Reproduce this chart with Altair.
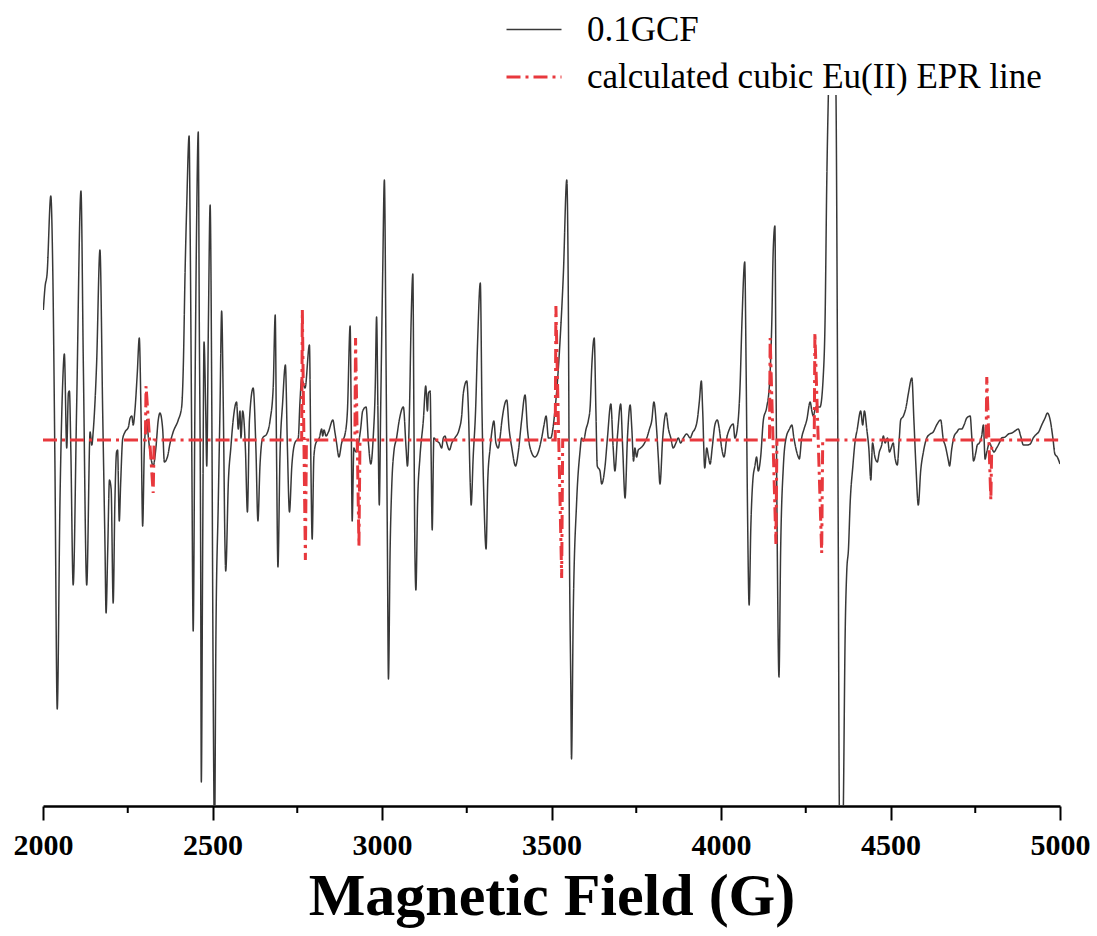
import altair as alt
import pandas as pd

# ---- measured spectrum (0.1GCF), field in gauss, signal in arbitrary units ----
field_g = [
    2001, 2006, 2012, 2023, 2029, 2035, 2042, 2050, 2058, 2063,
    2070, 2075, 2078, 2082, 2089, 2099, 2112, 2119, 2129, 2139,
    2144, 2148, 2158, 2168, 2176, 2183, 2186, 2191, 2196, 2201,
    2207, 2212, 2217, 2220, 2225, 2229, 2235, 2242, 2252, 2257,
    2262, 2266, 2271, 2278, 2284, 2289, 2294, 2299, 2306, 2311,
    2318, 2325, 2333, 2340, 2345, 2353, 2358, 2367, 2375, 2384,
    2399, 2409, 2414, 2419, 2424, 2431, 2434, 2439, 2443, 2448,
    2453, 2458, 2461, 2465, 2467, 2471, 2475, 2480, 2483, 2488,
    2493, 2498, 2502, 2506, 2510, 2517, 2522, 2527, 2532, 2537,
    2539, 2547, 2554, 2561, 2571, 2576, 2581, 2584, 2589, 2597,
    2603, 2609, 2620, 2628, 2634, 2640, 2648, 2660, 2670, 2679,
    2685, 2689, 2693, 2699, 2707, 2715, 2721, 2727, 2734, 2743,
    2753, 2758, 2763, 2773, 2786, 2790, 2794, 2799, 2805, 2815,
    2822, 2825, 2829, 2835, 2842, 2855, 2861, 2866, 2873, 2881,
    2891, 2898, 2906, 2909, 2912, 2917, 2923, 2937, 2943, 2953,
    2960, 2967, 2974, 2980, 2984, 2988, 2992, 2996, 3002, 3007,
    3012, 3016, 3019, 3024, 3029, 3035, 3043, 3051, 3063, 3071,
    3075, 3081, 3086, 3091, 3094, 3097, 3100, 3105, 3112, 3122,
    3129, 3134, 3137, 3142, 3145, 3148, 3153, 3161, 3169, 3176,
    3181, 3186, 3191, 3199, 3206, 3215, 3228, 3235, 3240, 3250,
    3255, 3260, 3263, 3269, 3276, 3282, 3290, 3295, 3301, 3307,
    3312, 3319, 3325, 3330, 3336, 3343, 3348, 3354, 3368, 3375,
    3383, 3394, 3402, 3412, 3422, 3429, 3437, 3451, 3461, 3471,
    3478, 3484, 3491, 3498, 3504, 3510, 3517, 3525, 3535, 3545,
    3550, 3553, 3557, 3559, 3564, 3574, 3584, 3589, 3594, 3602,
    3609, 3614, 3619, 3626, 3631, 3635, 3643, 3648, 3658, 3665,
    3675, 3682, 3687, 3695, 3704, 3710, 3717, 3724, 3732, 3737,
    3742, 3746, 3751, 3756, 3763, 3771, 3781, 3789, 3796, 3802,
    3810, 3815, 3820, 3828, 3838, 3845, 3852, 3859, 3867, 3874,
    3881, 3889, 3899, 3909, 3917, 3923, 3930, 3936, 3942, 3946,
    3952, 3958, 3963, 3968, 3974, 3982, 3989, 3995, 4002, 4009,
    4017, 4025, 4036, 4041, 4048, 4056, 4062, 4070, 4074, 4078,
    4083, 4088, 4094, 4100, 4105, 4110, 4117, 4125, 4135, 4143,
    4150, 4154, 4159, 4162, 4166, 4171, 4176, 4184, 4192, 4202,
    4209, 4215, 4228, 4231, 4238, 4245, 4253, 4263, 4268, 4272,
    4280, 4287, 4292, 4302, 4307, 4312, 4317, 4327, 4339, 4343,
    4346, 4349, 4356, 4361, 4366, 4371, 4376, 4381, 4389, 4395,
    4402, 4412, 4418, 4423, 4430, 4436, 4442, 4447, 4454, 4461,
    4467, 4474, 4479, 4484, 4491, 4497, 4502, 4508, 4513, 4520,
    4526, 4530, 4538, 4546, 4553, 4563, 4569, 4575, 4582, 4589,
    4597, 4607, 4617, 4626, 4636, 4648, 4656, 4661, 4671, 4674,
    4681, 4688, 4696, 4703, 4710, 4717, 4725, 4735, 4740, 4745,
    4752, 4756, 4762, 4769, 4774, 4779, 4784, 4792, 4799, 4805,
    4813, 4821, 4828, 4838, 4848, 4858, 4867, 4877, 4884, 4892,
    4902, 4912, 4921, 4931, 4937, 4946, 4956, 4963, 4971, 4979,
    4985, 4992, 5000,
]
signal = [
    130, 153, 166, 244, 166, -17, -269, -63, 56, 86,
    -8, 47, 49, -8, -145, 29, 249, 75, -145, 8,
    -5, 8, 75, 190, 29, -109, -173, -109, -40, -49,
    -163, -63, -12, -10, -81, -44, 1, 8, 13, 22,
    24, 15, 29, 66, 102, 29, -86, -8, 20, 2,
    -17, -26, -8, 20, 27, 11, -22, -17, -3, 8,
    20, 33, 75, 166, 235, 304, 212, -17, -191, 29,
    212, 308, 120, -109, -342, -109, 98, 29, -26, 120,
    235, 29, -247, -400, -200, -63, 29, 129, 29, -109,
    -131, -40, -8, 20, 38, 11, 29, 2, 29, -8,
    -72, 20, 52, -8, -81, -26, 2, 6, 20, 52,
    125, -17, -127, -17, 38, 75, -8, -72, -26, -3,
    2, 38, 61, 52, 95, -17, -99, -17, -3, 2,
    11, 4, 10, 4, 8, 20, 8, -3, -17, -3,
    6, 29, 114, 29, -81, -8, -12, 11, 29, 33,
    -3, -24, 2, 52, 123, 29, -65, 29, 166, 260,
    75, -109, -239, -109, -44, -12, 2, 20, 33, -8,
    -26, 29, 120, 166, 29, -109, -150, -63, -17, 20,
    54, 29, 47, 49, -17, -90, 2, -1, -3, -8,
    2, 4, -3, -10, -3, 2, 11, 24, 47, 59,
    29, -40, -65, -17, 29, 98, 157, 29, -63, -109,
    -40, -8, 11, 19, -3, -8, 2, 20, 40, 11,
    -8, -26, -12, 20, 45, 11, -8, -17, -12, 2,
    15, 24, 2, 2, 11, 29, 56, 98, 166, 260,
    120, -109, -247, -319, -177, -63, -12, 2, -1, 11,
    20, 33, 75, 102, 29, -26, -31, -44, -26, 2,
    36, -8, -31, 6, 36, -8, -58, 2, 35, 11,
    -21, -8, -17, -10, -8, -5, 2, 11, 20, 38,
    11, -17, -44, 2, 27, 11, 2, -8, -3, 2,
    -3, 2, 6, 2, 8, 11, 20, 38, 59, 29,
    -28, -8, -17, -24, -8, 15, 20, 11, -8, -17,
    2, 11, 16, 2, 11, 52, 120, 178, 75, -63,
    -165, -87, -40, -26, -17, -31, -17, 20, 33, 56,
    120, 189, 214, 75, -109, -237, -109, -26, 2, 11,
    15, 2, -17, -19, 2, 11, 20, 38, 29, 24,
    33, 33, 33, 66, 120, 258, 350, 480, 350, 120,
    -109, -366, -480, -366, -200, -131, -109, -63, -26, -3,
    11, 29, 15, 29, 11, -8, -40, -3, -17, -22,
    -12, -5, 4, -3, 2, -12, -8, -3, -17, -25,
    2, 20, 24, 33, 47, 62, 20, -26, -65, -31,
    -12, 2, 6, 8, 15, 20, 0, -5, -21, -26,
    -8, 4, 8, 11, 11, 15, 22, 24, 2, -21,
    -12, -5, -3, 4, 15, -19, -12, -3, -8, -12,
    -8, -3, 2, 3, 6, 7, 9, 11, 4, -5,
    -5, -4, 2, 6, 8, 15, 22, 27, 20, 2,
    -14, -17, -24,
]

# ---- calculated cubic Eu(II) EPR line ----
calc_field = [
    2000, 2302, 2304, 2325, 2328,
    2763, 2765, 2774, 2777,
    2920, 2922, 2932, 2935,
    3511, 3513, 3530, 3533,
    4143, 4145, 4162, 4165,
    4275, 4277, 4297, 4300,
    4782, 4784, 4796, 4799, 5000,
]
calc_signal = [
    0, 0, 54, -53, 0,
    0, 130, -120, 0,
    0, 102, -106, 0,
    0, 134, -138, 0,
    0, 102, -104, 0,
    0, 107, -113, 0,
    0, 63, -60, 0, 0,
]

series_names = ["0.1GCF", "calculated cubic Eu(II) EPR line"]
series_colors = ["#383838", "#e8383d"]
x_ticks = [2000, 2500, 3000, 3500, 4000, 4500, 5000]
minor_ticks = [2250, 2750, 3250, 3750, 4250, 4750]

df_meas = pd.DataFrame({"field": field_g, "signal": signal, "series": series_names[0]})
df_calc = pd.DataFrame({"field": calc_field, "signal": calc_signal, "series": series_names[1]})

xscale = alt.Scale(domain=[2000, 5000], nice=False, zero=False)
yscale = alt.Scale(domain=[-366, 345], nice=False, zero=False)

legend = alt.Legend(
    title=None, orient="none", legendX=462, legendY=-94,
    symbolType="stroke", symbolSize=3025,
    labelFont="Liberation Serif", labelFontSize=35, labelColor="black",
    labelOffset=24, rowPadding=-9, padding=0, labelLimit=800,
)

x_axis = alt.Axis(
    values=x_ticks, format="d", title="Magnetic Field (G)",
    grid=False, domainColor="black", domainWidth=2.5,
    tickColor="black", tickWidth=2, tickSize=14,
    labelFont="Liberation Serif", labelFontWeight="bold", labelFontSize=30,
    labelColor="black", labelPadding=10, labelFlush=False, labelOverlap=False,
    titleFont="Liberation Serif", titleFontWeight="bold", titleFontSize=60,
    titleColor="black", titleBaseline="alphabetic", titleY=108,
)

enc = dict(
    x=alt.X("field:Q", scale=xscale, axis=x_axis),
    y=alt.Y("signal:Q", scale=yscale, axis=None),
    color=alt.Color("series:N", scale=alt.Scale(domain=series_names, range=series_colors), legend=legend),
    strokeDash=alt.StrokeDash("series:N", scale=alt.Scale(domain=series_names, range=[[1, 0], [14, 5, 3, 5]]), legend=legend),
    strokeWidth=alt.StrokeWidth("series:N", scale=alt.Scale(domain=series_names, range=[1.5, 3]), legend=legend),
)

measured = alt.Chart(df_meas).mark_line(clip=True, interpolate="monotone").encode(**enc)
calculated = alt.Chart(df_calc).mark_line(clip=True, interpolate="linear").encode(**enc)

minor = alt.Chart(pd.DataFrame({"t": minor_ticks})).mark_rule(color="black", strokeWidth=2).encode(
    x=alt.X("t:Q", scale=xscale),
    y=alt.value(711),
    y2=alt.value(718),
)

chart = alt.layer(measured, calculated, minor).properties(
    width=1017, height=711,
    padding={"left": 43, "top": 95, "right": 37, "bottom": 130},
    autosize=alt.AutoSizeParams(type="none"),
    background="white",
).configure_view(stroke=None)

chart.save("out.html", embed_options={"renderer": "svg", "actions": False})
